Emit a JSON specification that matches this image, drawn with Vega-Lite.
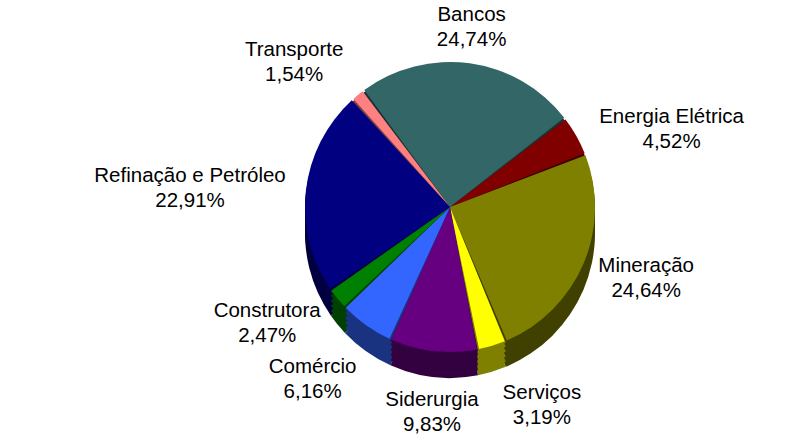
{
  "$schema": "https://vega.github.io/schema/vega-lite/v6.json",
  "width": 688,
  "height": 414,
  "autosize": "none",
  "padding": {"left": 106, "top": 0, "right": 0, "bottom": 31},
  "background": "white",
  "config": {"view": {"stroke": null}, "text": {"font": "Liberation Sans"}},
  "data": {
    "values": [
      {"setor": "Bancos", "pct": 24.74, "ordem": 1},
      {"setor": "Energia Elétrica", "pct": 4.52, "ordem": 2},
      {"setor": "Mineração", "pct": 24.64, "ordem": 3},
      {"setor": "Serviços", "pct": 3.19, "ordem": 4},
      {"setor": "Siderurgia", "pct": 9.83, "ordem": 5},
      {"setor": "Comércio", "pct": 6.16, "ordem": 6},
      {"setor": "Construtora", "pct": 2.47, "ordem": 7},
      {"setor": "Refinação e Petróleo", "pct": 22.91, "ordem": 8},
      {"setor": "Transporte", "pct": 1.54, "ordem": 9}
    ]
  },
  "encoding": {
    "theta": {"field": "pct", "type": "quantitative", "stack": true, "scale": {"domain": [0, 100], "range": [-0.64, 5.6432]}},
    "order": {"field": "ordem", "type": "quantitative"}
  },
  "layer": [
    {
      "mark": {"type": "arc", "radius": 145, "yOffset": 26},
      "encoding": {"color": {"field": "setor", "type": "nominal", "legend": null,
        "scale": {"domain": ["Bancos", "Energia Elétrica", "Mineração", "Serviços", "Siderurgia", "Comércio", "Construtora", "Refinação e Petróleo", "Transporte"],
                  "range": ["#1A3333", "#400000", "#404000", "#808000", "#330040", "#1A3380", "#004000", "#000040", "#804040"]}}}
    },
    {
      "mark": {"type": "arc", "radius": 145, "yOffset": 21},
      "encoding": {"color": {"field": "setor", "type": "nominal", "legend": null,
        "scale": {"domain": ["Bancos", "Energia Elétrica", "Mineração", "Serviços", "Siderurgia", "Comércio", "Construtora", "Refinação e Petróleo", "Transporte"],
                  "range": ["#1A3333", "#400000", "#404000", "#808000", "#330040", "#1A3380", "#004000", "#000040", "#804040"]}}}
    },
    {
      "mark": {"type": "arc", "radius": 145, "yOffset": 16},
      "encoding": {"color": {"field": "setor", "type": "nominal", "legend": null,
        "scale": {"domain": ["Bancos", "Energia Elétrica", "Mineração", "Serviços", "Siderurgia", "Comércio", "Construtora", "Refinação e Petróleo", "Transporte"],
                  "range": ["#1A3333", "#400000", "#404000", "#808000", "#330040", "#1A3380", "#004000", "#000040", "#804040"]}}}
    },
    {
      "mark": {"type": "arc", "radius": 145, "yOffset": 11},
      "encoding": {"color": {"field": "setor", "type": "nominal", "legend": null,
        "scale": {"domain": ["Bancos", "Energia Elétrica", "Mineração", "Serviços", "Siderurgia", "Comércio", "Construtora", "Refinação e Petróleo", "Transporte"],
                  "range": ["#1A3333", "#400000", "#404000", "#808000", "#330040", "#1A3380", "#004000", "#000040", "#804040"]}}}
    },
    {
      "mark": {"type": "arc", "radius": 145, "yOffset": 6},
      "encoding": {"color": {"field": "setor", "type": "nominal", "legend": null,
        "scale": {"domain": ["Bancos", "Energia Elétrica", "Mineração", "Serviços", "Siderurgia", "Comércio", "Construtora", "Refinação e Petróleo", "Transporte"],
                  "range": ["#1A3333", "#400000", "#404000", "#808000", "#330040", "#1A3380", "#004000", "#000040", "#804040"]}}}
    },
    {
      "mark": {"type": "arc", "radius": 145, "yOffset": 2},
      "encoding": {"color": {"field": "setor", "type": "nominal", "legend": null,
        "scale": {"domain": ["Bancos", "Energia Elétrica", "Mineração", "Serviços", "Siderurgia", "Comércio", "Construtora", "Refinação e Petróleo", "Transporte"],
                  "range": ["#1A3333", "#400000", "#404000", "#808000", "#330040", "#1A3380", "#004000", "#000040", "#804040"]}}}
    },
    {
      "mark": {"type": "arc", "radius": 145, "padAngle": 0.015},
      "encoding": {"color": {"field": "setor", "type": "nominal", "legend": null,
        "scale": {"domain": ["Bancos", "Energia Elétrica", "Mineração", "Serviços", "Siderurgia", "Comércio", "Construtora", "Refinação e Petróleo", "Transporte"],
                  "range": ["#336666", "#800000", "#808000", "#FFFF00", "#660080", "#3366FF", "#008000", "#000080", "#FF8080"]}}}
    },
    {
      "transform": [
        {"calculate": "datum.setor + '\\n' + replace(format(datum.pct, '.2f'), '.', ',') + '%'", "as": "rotulo"}
      ],
      "mark": {
        "type": "text",
        "radius": 158,
        "fontSize": 20.5,
        "lineHeight": 25,
        "lineBreak": "\n",
        "font": "Liberation Sans",
        "color": "#000000",
        "align": "center",
        "dx": {"expr": "sin((datum.pct_start + datum.pct_end) / 200 * 2 * PI - 0.64) > 0.25 ? length(datum.setor) * 4.75 + 8 : (sin((datum.pct_start + datum.pct_end) / 200 * 2 * PI - 0.64) < -0.3 ? -length(datum.setor) * 4.75 - 8 : 0)"},
        "baseline": {"expr": "cos((datum.pct_start + datum.pct_end) / 200 * 2 * PI - 0.64) > 0.7 ? 'bottom' : (cos((datum.pct_start + datum.pct_end) / 200 * 2 * PI - 0.64) < -0.7 ? 'top' : 'middle')"},
        "yOffset": {"expr": "cos((datum.pct_start + datum.pct_end) / 200 * 2 * PI - 0.64) > 0.7 ? -25 : ((cos((datum.pct_start + datum.pct_end) / 200 * 2 * PI - 0.64) < -0.7 ? 0 : -12.5) + 26 * max(0, -cos((datum.pct_start + datum.pct_end) / 200 * 2 * PI - 0.64)))"}
      },
      "encoding": {"text": {"field": "rotulo", "type": "nominal"}}
    }
  ],
  "resolve": {"scale": {"color": "independent"}}
}
